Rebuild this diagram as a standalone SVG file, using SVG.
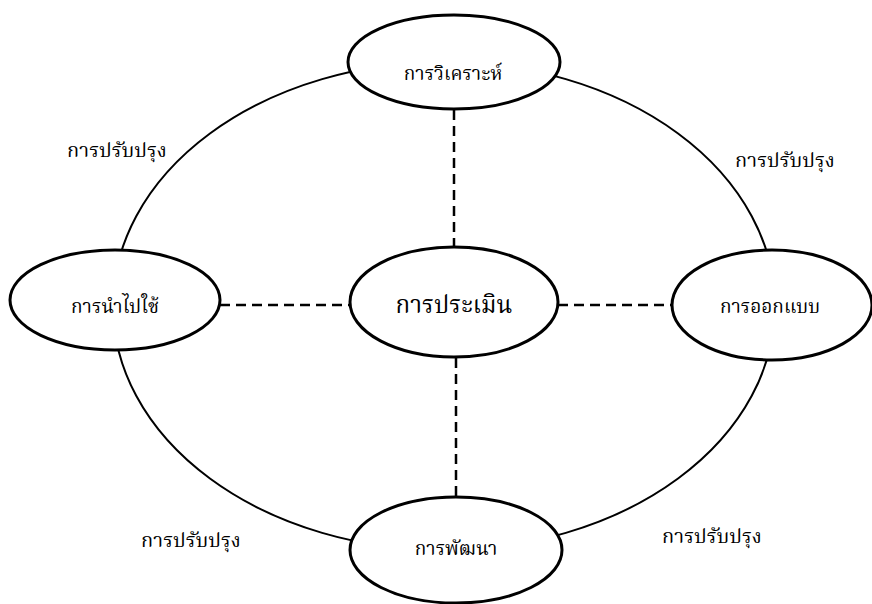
<svg xmlns="http://www.w3.org/2000/svg" width="872" height="604" viewBox="0 0 872 604">
<style>
.node{fill:#fff;stroke:#000;stroke-width:3}
.ring{fill:none;stroke:#000;stroke-width:2}
.dash{stroke:#000;stroke-width:2.5;stroke-dasharray:10 6;fill:none}
text{font-family:"Liberation Serif","Noto Serif Thai","Noto Sans Thai",serif;fill:#000;text-anchor:middle}
.t{font-size:19px}
.c{font-size:24px}
.lb{font-size:20px}
</style>
<rect width="872" height="604" fill="#fff"/>
<g id="connectors">
<ellipse class="ring" cx="444" cy="306" rx="331" ry="244"/>
<line class="dash" x1="454" y1="110" x2="454" y2="247"/>
<line class="dash" x1="456" y1="358" x2="456" y2="497"/>
<line class="dash" x1="220" y1="305" x2="350" y2="305"/>
<line class="dash" x1="558" y1="305" x2="672" y2="305"/>
</g>
<g id="n-analysis"><ellipse class="node" cx="454" cy="62" rx="106" ry="47"/><text class="t" x="453" y="80">การวิเคราะห์</text></g>
<g id="n-implement"><ellipse class="node" cx="115" cy="300" rx="105" ry="50"/><text class="t" x="115" y="313">การนำไปใช้</text></g>
<g id="n-evaluate"><ellipse class="node" cx="454" cy="302" rx="104" ry="55"/><text class="c" x="454" y="313">การประเมิน</text></g>
<g id="n-design"><ellipse class="node" cx="772" cy="305" rx="100" ry="55"/><text class="t" x="770" y="313">การออกแบบ</text></g>
<g id="n-develop"><ellipse class="node" cx="456" cy="550" rx="106" ry="53"/><text class="t" x="456" y="555">การพัฒนา</text></g>
<g id="labels">
<text class="lb" x="117" y="157">การปรับปรุง</text>
<text class="lb" x="785" y="167">การปรับปรุง</text>
<text class="lb" x="191" y="547">การปรับปรุง</text>
<text class="lb" x="712" y="543">การปรับปรุง</text>
</g>
</svg>
